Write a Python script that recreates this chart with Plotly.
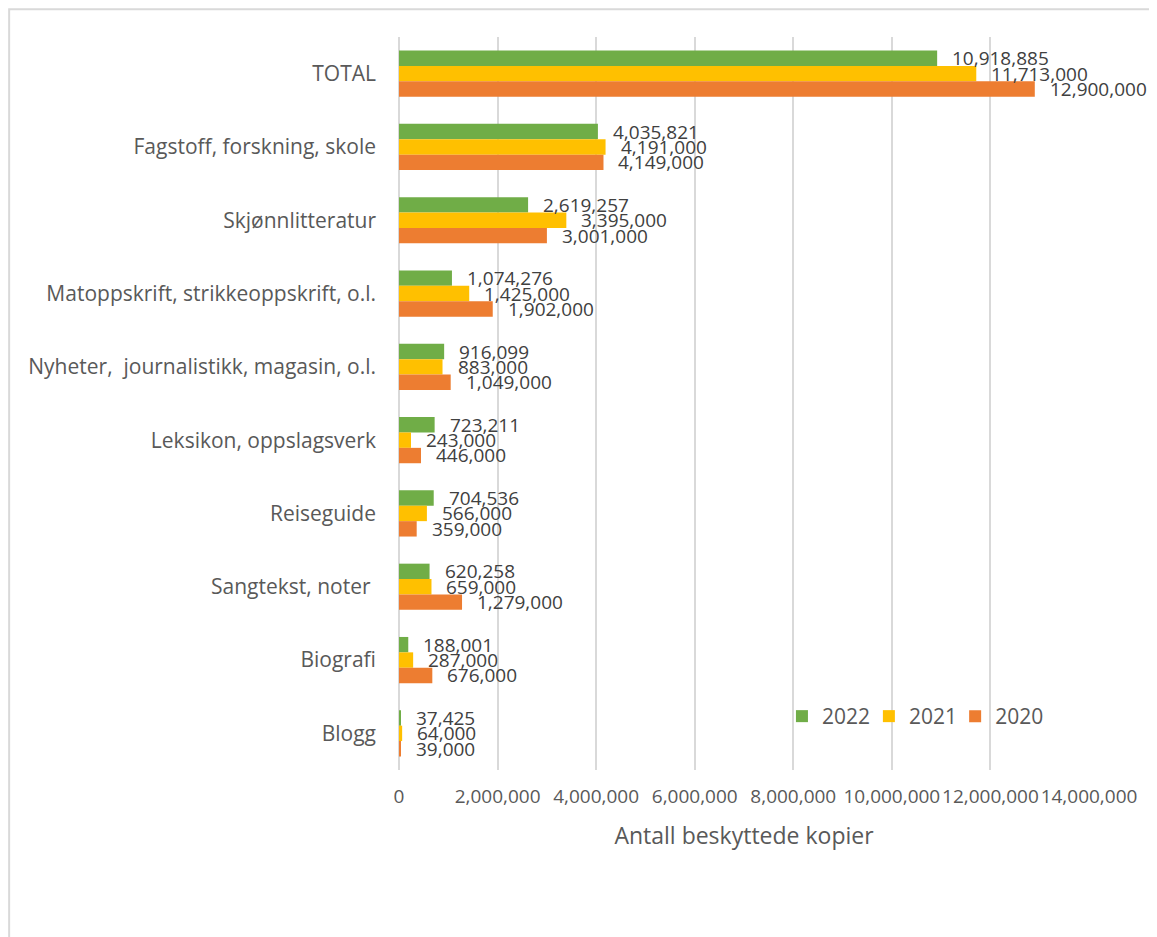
import plotly.graph_objects as go

categories = ["TOTAL", "Fagstoff, forskning, skole", "Skjønnlitteratur",
              "Matoppskrift, strikkeoppskrift, o.l.",
              "Nyheter,  journalistikk, magasin, o.l.",
              "Leksikon, oppslagsverk", "Reiseguide", "Sangtekst, noter ",
              "Biografi", "Blogg"]
v2022 = [10918885, 4035821, 2619257, 1074276, 916099, 723211, 704536, 620258, 188001, 37425]
v2021 = [11713000, 4191000, 3395000, 1425000, 883000, 243000, 566000, 659000, 287000, 64000]
v2020 = [12900000, 4149000, 3001000, 1902000, 1049000, 446000, 359000, 1279000, 676000, 39000]
series_names = ["2022", "2021", "2020"]
series_vals = [v2022, v2021, v2020]
colors = ["#70AD47", "#FFC000", "#ED7D31"]
x_ticks = [0, 2000000, 4000000, 6000000, 8000000, 10000000, 12000000, 14000000]

FONT = "Open Sans"
legend_ids = ["legend", "legend2", "legend3"]
legend_x = [0.555, 0.681, 0.806]

fig = go.Figure()
for name, vals, col, lid in zip(series_names, series_vals, colors, legend_ids):
    fig.add_trace(go.Bar(y=categories, x=vals, name=name, orientation="h",
                         legend=lid,
                         marker=dict(color=col, line=dict(width=0))))

# data labels
shifts = [15.3, 0, -15.3]
annotations = []
for vals, sh in zip(series_vals, shifts):
    for cat, v in zip(categories, vals):
        annotations.append(dict(x=v, y=cat, xref="x", yref="y", text=f"{v:,}",
                                showarrow=False, xanchor="left", yanchor="middle",
                                xshift=13, yshift=sh,
                                font=dict(family=FONT, size=19, color="#404040")))

leg_common = dict(orientation="h", y=0.073, xanchor="left", yanchor="middle",
                  font=dict(family=FONT, size=21, color="#595959"),
                  bgcolor="rgba(0,0,0,0)")

fig.update_layout(
    width=1157, height=937,
    paper_bgcolor="white", plot_bgcolor="white",
    margin=dict(l=391, r=76, t=29, b=175),
    barmode="group", bargap=0.37, bargroupgap=0,
    font=dict(family=FONT, color="#595959"),
    showlegend=True,
    legend=dict(x=legend_x[0], **leg_common),
    legend2=dict(x=legend_x[1], **leg_common),
    legend3=dict(x=legend_x[2], **leg_common),
    annotations=annotations,
    shapes=[dict(type="path", xref="paper", yref="paper",
                 path="M -0.565 -0.3 L -0.565 1.038 L 1.2 1.038",
                 line=dict(color="#D9D9D9", width=2))],
)
fig.update_xaxes(range=[0, 14000000], tickvals=x_ticks, tickformat=",d",
                 tickangle=0,
                 showgrid=True, gridcolor="#D9D9D9", gridwidth=1.5,
                 zeroline=True, zerolinecolor="#D9D9D9", zerolinewidth=1.5,
                 showline=False, ticks="", ticklabelstandoff=13,
                 tickfont=dict(family=FONT, size=19, color="#595959"),
                 title=dict(text="Antall beskyttede kopier", standoff=19,
                            font=dict(family=FONT, size=23, color="#595959")))
fig.update_yaxes(autorange="reversed", showgrid=False, zeroline=False, showline=False,
                 ticks="", ticklabelstandoff=22,
                 tickfont=dict(family=FONT, size=21, color="#595959"))

fig.write_html("out.html")
